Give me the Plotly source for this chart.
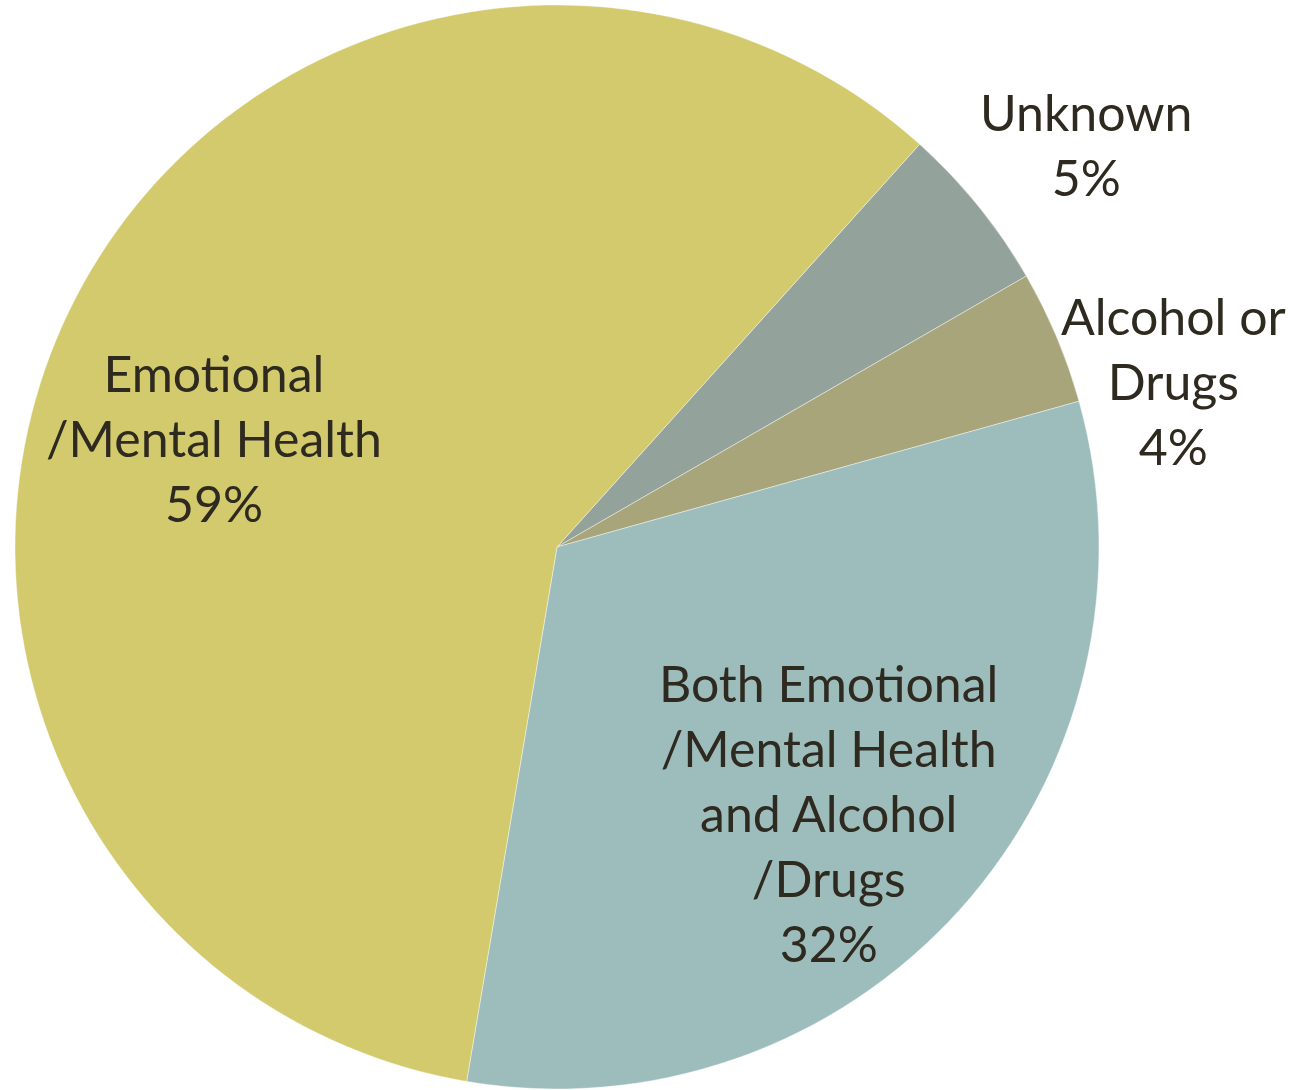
import plotly.graph_objects as go

# Data
categories = ["Unknown", "Alcohol or Drugs", "Both Emotional /Mental Health and Alcohol /Drugs", "Emotional /Mental Health"]
values = [5, 4, 32, 59]
label_lines = [
    ["Unknown"],
    ["Alcohol or", "Drugs"],
    ["Both Emotional", "/Mental Health", "and Alcohol", "/Drugs"],
    ["Emotional", "/Mental Health"],
]
colors = ["#93A29A", "#A8A57B", "#9DBDBD", "#D2CA6C"]

W, H = 1294, 1090

fig = go.Figure(go.Pie(
    labels=categories,
    values=values,
    sort=False,
    direction="clockwise",
    rotation=42,
    marker=dict(colors=colors, line=dict(color="rgba(255,255,255,0.6)", width=0.7)),
    textinfo="none",
    hoverinfo="label+percent",
    showlegend=False,
    domain=dict(x=[15 / W, 1099 / W], y=[1 / H, 1085 / H]),
))

# label centres (pixels in the picture)
label_pos = [(1086, 145), (1173, 381), (828, 813), (214, 438)]

for lines, v, (px, py) in zip(label_lines, values, label_pos):
    fig.add_annotation(
        text="<br>".join(lines + [f"{v}%"]),
        x=px / W, y=1 - py / H, xref="paper", yref="paper",
        xanchor="center", yanchor="middle", showarrow=False,
        align="center",
        font=dict(family="Lato", size=50, color="#2E2A20"),
    )

fig.update_layout(
    width=W, height=H,
    margin=dict(l=0, r=0, t=0, b=0),
    paper_bgcolor="white",
    plot_bgcolor="white",
)

fig.write_html("out.html", config={"displayModeBar": False},
               post_script="document.body.style.margin='0';")
